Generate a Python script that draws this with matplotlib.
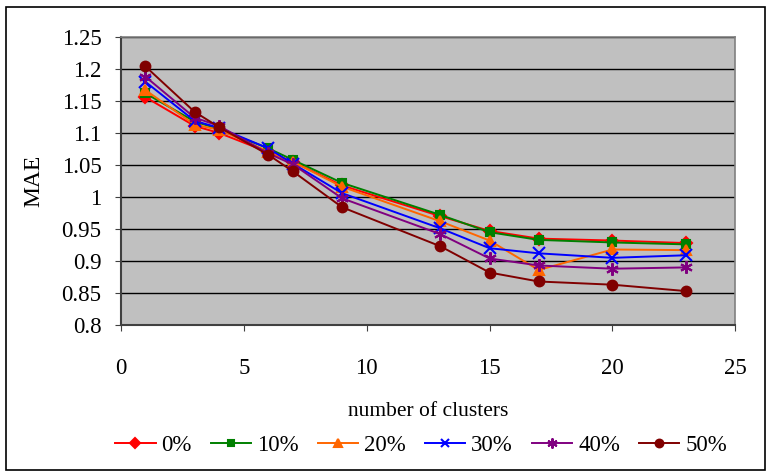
import matplotlib

matplotlib.use("Agg")
import matplotlib.pyplot as plt  # noqa: E402
from matplotlib.patches import Rectangle  # noqa: E402

clusters = [1, 3, 4, 6, 7, 9, 13, 15, 17, 20, 23]

mae_0 = [1.156, 1.111, 1.100, 1.070, 1.055, 1.018, 0.970, 0.947, 0.935, 0.932, 0.928]
mae_10 = [1.162, 1.118, 1.106, 1.076, 1.058, 1.022, 0.972, 0.945, 0.933, 0.929, 0.926]
mae_20 = [1.167, 1.113, 1.105, 1.071, 1.055, 1.016, 0.962, 0.932, 0.886, 0.918, 0.917]
mae_30 = [1.180, 1.119, 1.108, 1.076, 1.052, 1.006, 0.951, 0.920, 0.912, 0.905, 0.909]
mae_40 = [1.188, 1.124, 1.111, 1.068, 1.051, 0.998, 0.942, 0.904, 0.893, 0.888, 0.890]
mae_50 = [1.204, 1.133, 1.109, 1.066, 1.040, 0.984, 0.923, 0.882, 0.868, 0.863, 0.853]

labels = ["0%", "10%", "20%", "30%", "40%", "50%"]
yticks = [0.8, 0.85, 0.9, 0.95, 1, 1.05, 1.1, 1.15, 1.2, 1.25]
ytick_labels = ["0.8", "0.85", "0.9", "0.95", "1", "1.05", "1.1", "1.15", "1.2", "1.25"]
xticks = [0, 5, 10, 15, 20, 25]

plt.rcParams["font.family"] = ["Liberation Serif", "DejaVu Serif"]

fig = plt.figure(figsize=(7.7, 4.72), dpi=100)
ax = fig.add_axes([0.157, 0.3114, 0.798, 0.6102])
ax.set_facecolor("#C0C0C0")

styles = [
    ("#FF0000", "D", 6),
    ("#008000", "s", 6),
    ("#FF6600", "^", 7),
    ("#0000FF", "x", 8),
    ("#800080", (6, 2, 0), 9),
    ("#800000", "o", 7),
]
series = [mae_0, mae_10, mae_20, mae_30, mae_40, mae_50]
for vals, lab, (c, m, ms) in zip(series, labels, styles):
    ax.plot(clusters, vals, color=c, marker=m, ms=ms, lw=1.4, mew=1.5,
            label=lab, zorder=3)

ax.set_xlim(0, 25)
ax.set_ylim(0.8, 1.25)
ax.set_xticks(xticks)
ax.set_yticks(yticks)
ax.set_yticklabels(ytick_labels)
ax.yaxis.grid(True, color="black", lw=1.0)
ax.set_axisbelow(True)
ax.tick_params(axis="both", labelsize=16.5, length=4, color="#404040")
ax.tick_params(axis="x", pad=20)
ax.tick_params(axis="y", pad=10)
for side in ("left", "bottom"):
    ax.spines[side].set_color("#404040")
    ax.spines[side].set_linewidth(1.5)
for side in ("top", "right"):
    ax.spines[side].set_color("#808080")
    ax.spines[side].set_linewidth(1.2)

ax.set_xlabel("number of clusters", fontsize=15.5, labelpad=16)
ax.set_ylabel("MAE", fontsize=17, labelpad=12)

leg = fig.legend(loc="center", bbox_to_anchor=(0.547, 0.057), ncol=6, frameon=False,
                 fontsize=16.5, handlelength=1.75, handletextpad=0.25,
                 columnspacing=0.85, markerscale=0.8)

fig.patches.append(Rectangle((0.008, 0.005), 0.986, 0.98, transform=fig.transFigure,
                             fill=False, edgecolor="black", lw=1.2))

fig.savefig("out.png", dpi=100)
